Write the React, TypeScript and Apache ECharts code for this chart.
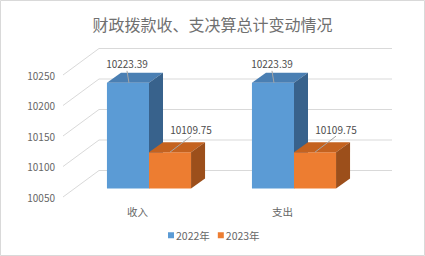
import React, { useEffect, useRef } from "react";
import * as echarts from "echarts";

const titleText = "财政拨款收、支决算总计变动情况";
const categories = ["收入", "支出"];
const seriesNames = ["2022年", "2023年"];
const values2022 = [10223.39, 10223.39];
const values2023 = [10109.75, 10109.75];
const yTicks = [10050, 10100, 10150, 10200, 10250];
const yMin = 10050;
const yMax = 10250;
const yStep = 50;

const FONT = '"Noto Sans CJK SC", "Noto Sans", sans-serif';
const WALL_DX = 36;
const WALL_DY = -26.5;
const BAR_DX = 14;
const BAR_DY = -10;
const DEPTH_DX = 11.5;
const DEPTH_DY = -8.4;
const GRID_COLOR = "#d9d9d9";
const LABEL_COLOR = "#4d4d4d";
const AXIS_COLOR = "#666666";
const LEADER_COLOR = "#a6a6a6";

const palettes = [
  { front: "#5b9bd5", top: "#4a7fb3", side: "#38628c" },
  { front: "#ed7d31", top: "#c4621f", side: "#9c4f1b" },
];

function makeBarRender(seriesIdx: number) {
  const pal = palettes[seriesIdx];
  return (params: any, api: any) => {
    const cat = api.value(0);
    const val = api.value(1);
    const [cx, ty] = api.coord([cat, val]);
    const by = api.coord([cat, yMin])[1];
    const band = params.coordSys.width / categories.length;
    const w = band * 0.29;
    const pc = cx + DEPTH_DX;
    const x0 = seriesIdx === 0 ? pc - w : pc;
    const x1 = x0 + w;
    const yt = ty + DEPTH_DY;
    const yb = by + DEPTH_DY;
    const fc = (x0 + x1) / 2;
    const children: any[] = [
      {
        type: "polygon",
        shape: { points: [[x0, yt], [x1, yt], [x1, yb], [x0, yb]] },
        style: { fill: pal.front },
      },
      {
        type: "polygon",
        shape: {
          points: [
            [x0, yt],
            [x1, yt],
            [x1 + BAR_DX, yt + BAR_DY],
            [x0 + BAR_DX, yt + BAR_DY],
          ],
        },
        style: { fill: pal.top },
      },
      {
        type: "polygon",
        shape: {
          points: [
            [x1, yt],
            [x1 + BAR_DX, yt + BAR_DY],
            [x1 + BAR_DX, yb + BAR_DY],
            [x1, yb],
          ],
        },
        style: { fill: pal.side },
      },
    ];
    let lx: number, ly: number, l0: number[], l1: number[];
    if (seriesIdx === 0) {
      lx = fc - 1;
      ly = yt - 19;
      l0 = [fc - 1, yt - 12];
      l1 = [fc + 1, yt];
    } else {
      lx = fc + 21;
      ly = yt - 23;
      l0 = [fc + 21, yt - 16];
      l1 = [fc, yt];
    }
    children.push({
      type: "line",
      shape: { x1: l0[0], y1: l0[1], x2: l1[0], y2: l1[1] },
      style: { stroke: LEADER_COLOR, lineWidth: 1 },
      z2: 10,
    });
    children.push({
      type: "text",
      x: lx,
      y: ly,
      style: {
        text: val.toFixed(2),
        fill: LABEL_COLOR,
        fontSize: 10,
        fontFamily: FONT,
        align: "center",
        verticalAlign: "middle",
      },
      z2: 10,
    });
    return { type: "group", children };
  };
}

export default function App() {
  const ref = useRef<HTMLDivElement>(null);
  useEffect(() => {
    if (!ref.current) return;
    const chart = echarts.init(ref.current, null, { renderer: "svg" });
    const gridRender = (params: any, api: any) => {
      const v = api.value(1);
      const y = api.coord([0, v])[1];
      const cs = params.coordSys;
      const x = cs.x - 2;
      return {
        type: "group",
        children: [
          {
            type: "line",
            shape: { x1: x, y1: y, x2: x + WALL_DX, y2: y + WALL_DY },
            style: { stroke: GRID_COLOR, lineWidth: 1 },
          },
          {
            type: "line",
            shape: {
              x1: x + WALL_DX,
              y1: y + WALL_DY,
              x2: cs.x + cs.width + WALL_DX + 1,
              y2: y + WALL_DY,
            },
            style: { stroke: GRID_COLOR, lineWidth: 1 },
          },
        ],
      };
    };
    chart.setOption({
      animation: false,
      backgroundColor: "#ffffff",
      title: {
        text: titleText,
        left: "center",
        top: 11,
        textStyle: {
          fontSize: 16,
          fontWeight: "normal",
          color: "#707070",
          fontFamily: FONT,
        },
      },
      graphic: [
        {
          type: "rect",
          shape: { x: 0.5, y: 0.5, width: 424, height: 255 },
          style: { fill: "none", stroke: "#d9d9d9", lineWidth: 1 },
          silent: true,
        },
      ],
      legend: {
        data: seriesNames,
        left: 168,
        top: 230,
        padding: 0,
        itemWidth: 6,
        itemHeight: 6,
        itemGap: 8,
        icon: "rect",
        textStyle: { fontSize: 10.5, color: AXIS_COLOR, fontFamily: FONT, padding: [0, 0, 0, -3] },
      },
      grid: { left: 65, right: 70, top: 75, bottom: 59 },
      xAxis: {
        type: "category",
        data: categories,
        axisLine: { show: false },
        axisTick: { show: false },
        axisLabel: { color: AXIS_COLOR, fontSize: 10.5, fontFamily: FONT, margin: 9 },
      },
      yAxis: {
        type: "value",
        min: yMin,
        max: yMax,
        interval: yStep,
        axisLine: { show: false },
        axisTick: { show: false },
        splitLine: { show: false },
        axisLabel: {
          color: AXIS_COLOR,
          fontSize: 10,
          fontFamily: FONT,
          margin: 10,
          formatter: (v: number) => String(v),
        },
      },
      series: [
        {
          type: "custom",
          name: "__grid",
          renderItem: gridRender,
          data: yTicks.map((v) => [0, v]),
          encode: { x: 0, y: 1 },
          silent: true,
          z: 1,
        },
        {
          type: "custom",
          name: seriesNames[0],
          renderItem: makeBarRender(0),
          data: values2022.map((v, i) => [i, v]),
          encode: { x: 0, y: 1 },
          itemStyle: { color: palettes[0].front },
          z: 2,
        },
        {
          type: "custom",
          name: seriesNames[1],
          renderItem: makeBarRender(1),
          data: values2023.map((v, i) => [i, v]),
          encode: { x: 0, y: 1 },
          itemStyle: { color: palettes[1].front },
          z: 3,
        },
      ],
    });
    return () => chart.dispose();
  }, []);
  return (
    <div
      ref={ref}
      style={{ position: "fixed", left: 0, top: 0, width: 425, height: 256 }}
    />
  );
}
